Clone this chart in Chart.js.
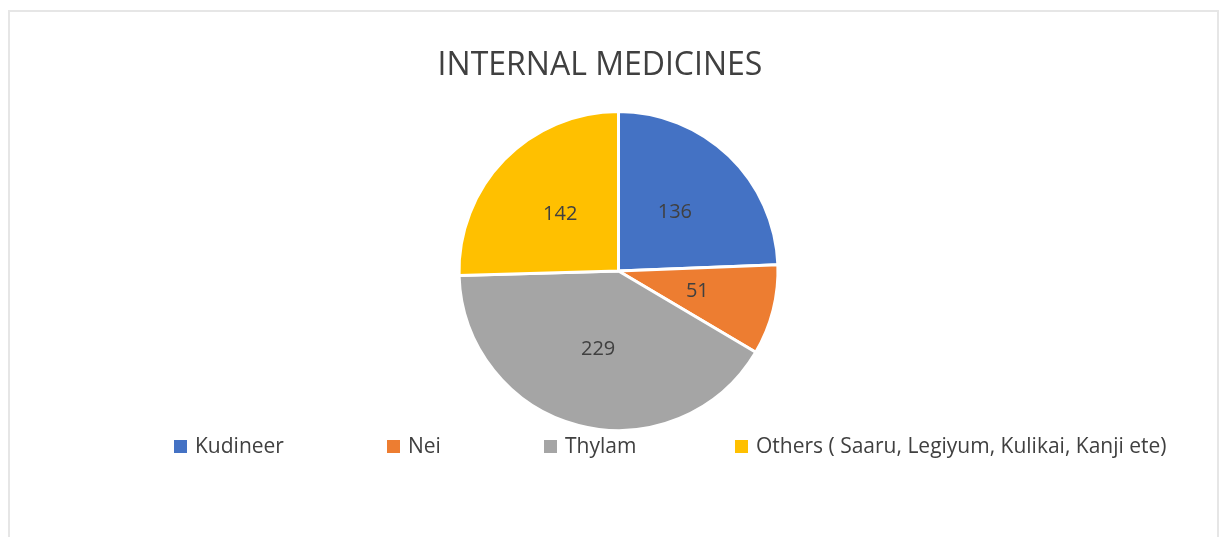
<!DOCTYPE html>
<html>
<head>
<meta charset="utf-8">
<script src="https://cdn.jsdelivr.net/npm/chart.js@4"></script>
<style>
  html, body { margin: 0; padding: 0; background: #fff; }
  #wrap { position: absolute; left: 0; top: 0; width: 1220px; height: 537px; }
</style>
</head>
<body>
<div id="wrap"><canvas id="chart1" width="1220" height="537"></canvas></div>
<script>
const chartTitle = 'INTERNAL MEDICINES';
const categories = ['Kudineer', 'Nei', 'Thylam', 'Others ( Saaru, Legiyum, Kulikai, Kanji ete)'];
const values = [136, 51, 229, 142];
const colors = ['#4472C4', '#ED7D31', '#A5A5A5', '#FFC000'];

const FONT = '"Open Sans", sans-serif';
const TEXT = '#404040';

// frame, title, value labels and an Excel-like legend
const decor = {
    id: 'decor',
    beforeDraw(chart) {
        const c = chart.ctx;
        c.save();
        c.strokeStyle = '#e6e6e6';
        c.lineWidth = 2;
        c.beginPath();
        c.moveTo(9, 540);
        c.lineTo(9, 11);
        c.lineTo(1218, 11);
        c.lineTo(1218, 540);
        c.stroke();
        c.restore();
    },
    afterDraw(chart) {
        const c = chart.ctx;
        c.save();
        c.fillStyle = TEXT;
        c.textAlign = 'center';
        c.textBaseline = 'middle';
        c.font = '32px ' + FONT;
        c.fillText(chartTitle, 600, 66);

        // value labels at half radius
        const meta = chart.getDatasetMeta(0);
        c.font = '20px ' + FONT;
        meta.data.forEach((arc, i) => {
            const p = arc.getProps(['x', 'y', 'startAngle', 'endAngle', 'outerRadius']);
            const mid = (p.startAngle + p.endAngle) / 2;
            const d = p.outerRadius * 0.51;
            c.fillText(String(values[i]), p.x + Math.cos(mid) * d, p.y + Math.sin(mid) * d);
        });

        // legend
        const legendX = [174, 387, 544, 735];
        c.textAlign = 'left';
        c.font = '21px ' + FONT;
        categories.forEach((name, i) => {
            c.fillStyle = colors[i];
            c.fillRect(legendX[i], 440, 13, 13);
            c.fillStyle = TEXT;
            c.fillText(name, legendX[i] + 21, 447);
        });
        c.restore();
    }
};

new Chart(document.getElementById('chart1'), {
    type: 'pie',
    data: {
        labels: categories,
        datasets: [{
            data: values,
            backgroundColor: colors,
            borderColor: '#ffffff',
            borderWidth: 3,
        }],
    },
    options: {
        responsive: false,
        animation: false,
        layout: {
            padding: { top: 110, bottom: 105, left: 457, right: 440 },
        },
        plugins: {
            legend: { display: false },
            title: { display: false },
            tooltip: { enabled: false },
        },
    },
    plugins: [decor],
});
</script>
</body>
</html>
